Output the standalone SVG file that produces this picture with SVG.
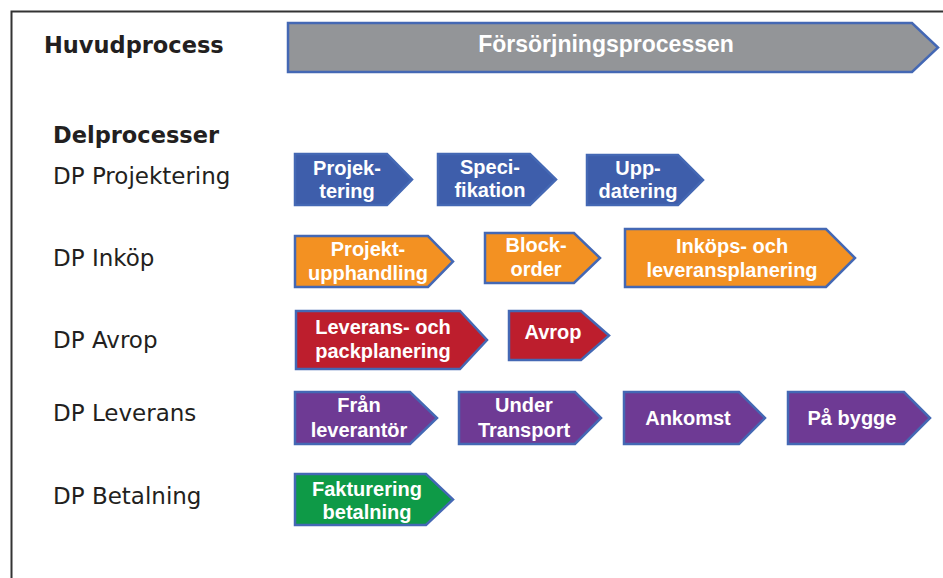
<svg xmlns="http://www.w3.org/2000/svg" width="943" height="578" viewBox="0 0 943 578">
<style>
.lbl{font-family:"DejaVu Sans",Verdana,sans-serif;font-size:23px;fill:#231f20}
.lblb{font-family:"DejaVu Sans",Verdana,sans-serif;font-size:22.5px;font-weight:bold;fill:#231f20}
.shape{stroke:#4468b4;stroke-width:2.5;stroke-linejoin:miter}
.t{font-family:"Liberation Sans",Arial,sans-serif;font-size:20px;font-weight:bold;fill:#ffffff;text-anchor:middle}
.blue{fill:#3e5eab}
.orange{fill:#f39122}
.red{fill:#bd1e2d}
.purple{fill:#6e3a94}
.green{fill:#0e9a47}
.gray{fill:#939598}
</style>
<rect width="943" height="578" fill="#ffffff"/>
<g id="frame">
<path d="M11.5,578 V11.5 H943" fill="none" stroke="#333333" stroke-width="2"/>
</g>
<g id="labels">
<text class="lblb" x="44" y="53">Huvudprocess</text>
<text class="lblb" x="53" y="143">Delprocesser</text>
<text class="lbl" x="53" y="184">DP Projektering</text>
<text class="lbl" x="53" y="266">DP Inköp</text>
<text class="lbl" x="53" y="348">DP Avrop</text>
<text class="lbl" x="53" y="421">DP Leverans</text>
<text class="lbl" x="53" y="504">DP Betalning</text>
</g>
<g id="connectors"></g>
<g id="huvud">
<path class="shape gray" d="M288,23 H912 L938,47.5 L912,72 H288 Z"/>
<text class="t" x="606" y="52" style="font-size:23px">Försörjningsprocessen</text>
</g>
<g id="projektering">
<path class="shape blue" d="M295,154 H387 L412,179.5 L387,205 H295 Z"/>
<text class="t" x="347" y="175">Projek-</text>
<text class="t" x="347" y="198">tering</text>
</g>
<g id="specifikation">
<path class="shape blue" d="M438,154 H530 L556,179.5 L530,205 H438 Z"/>
<text class="t" x="490" y="174">Speci-</text>
<text class="t" x="490" y="197">fikation</text>
</g>
<g id="uppdatering">
<path class="shape blue" d="M587,155 H678 L703,180 L678,205 H587 Z"/>
<text class="t" x="638" y="175">Upp-</text>
<text class="t" x="638" y="198">datering</text>
</g>
<g id="projektupphandling">
<path class="shape orange" d="M295,236 H428 L453,261.5 L428,287 H295 Z"/>
<text class="t" x="368" y="256">Projekt-</text>
<text class="t" x="368" y="280">upphandling</text>
</g>
<g id="blockorder">
<path class="shape orange" d="M485,233 H574 L600,258 L574,283 H485 Z"/>
<text class="t" x="536" y="252">Block-</text>
<text class="t" x="536" y="276">order</text>
</g>
<g id="inkopsplanering">
<path class="shape orange" d="M625,229 H826 L855,258 L826,287 H625 Z"/>
<text class="t" x="732" y="253">Inköps- och</text>
<text class="t" x="732" y="277">leveransplanering</text>
</g>
<g id="packplanering">
<path class="shape red" d="M296,311 H460 L487,340 L460,369 H296 Z"/>
<text class="t" x="383" y="334">Leverans- och</text>
<text class="t" x="383" y="358">packplanering</text>
</g>
<g id="avrop">
<path class="shape red" d="M509,311 H581 L609,335.5 L581,360 H509 Z"/>
<text class="t" x="553" y="339">Avrop</text>
</g>
<g id="franleverantor">
<path class="shape purple" d="M295,392 H410 L437,418 L410,444 H295 Z"/>
<text class="t" x="359" y="412">Från</text>
<text class="t" x="359" y="437">leverantör</text>
</g>
<g id="undertransport">
<path class="shape purple" d="M459,392 H575 L601,418 L575,444 H459 Z"/>
<text class="t" x="524" y="412">Under</text>
<text class="t" x="524" y="437">Transport</text>
</g>
<g id="ankomst">
<path class="shape purple" d="M624,392 H739 L765,418 L739,444 H624 Z"/>
<text class="t" x="688" y="425">Ankomst</text>
</g>
<g id="pabygge">
<path class="shape purple" d="M788,392 H904 L930,418 L904,444 H788 Z"/>
<text class="t" x="852" y="425">På bygge</text>
</g>
<g id="fakturering">
<path class="shape green" d="M295,474 H426 L453,499.5 L426,525 H295 Z"/>
<text class="t" x="367" y="496">Fakturering</text>
<text class="t" x="367" y="519">betalning</text>
</g>
</svg>
